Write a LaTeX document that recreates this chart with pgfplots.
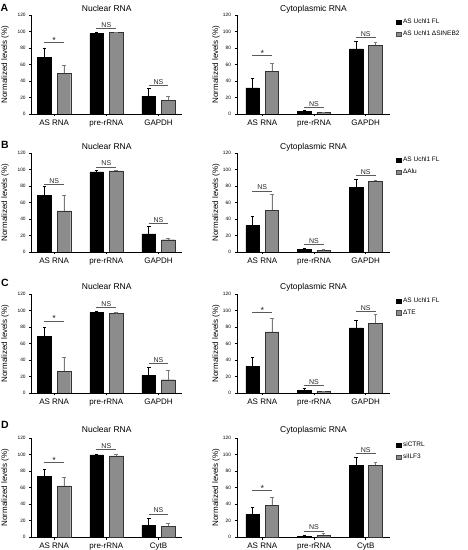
\documentclass[border=0pt]{standalone}
\usepackage{pgfplots}
\pgfplotsset{compat=1.18}
\usepackage{fontspec}
\setmainfont{Liberation Sans}
\definecolor{bargray}{HTML}{8C8C8C}
\definecolor{errgray}{HTML}{7A7A7A}
\definecolor{siggray}{HTML}{5A5A5A}
\pgfplotsset{
  panel/.style={scale only axis, height=99pt, ymin=0, ymax=120, ytick={0,20,...,120},
    axis x line*=bottom, axis y line*=left, tick align=outside, major tick length=2.5pt,
    xtick={0,1,2}, ylabel={Normalized levels (\%)},
    axis line style={line width=0.6pt}, tick style={line width=0.5pt, black},
    /pgf/number format/assume math mode=true,
    yticklabel style={font=\fontsize{4.8}{5}\selectfont, xshift=0pt},
    xticklabel style={font=\fontsize{8}{9}\selectfont},
    ylabel style={font=\fontsize{8}{9}\selectfont},
    title style={font=\fontsize{8.5}{10}\selectfont, at={(axis description cs:0.5,1)}, anchor=base},
    legend style={at={(axis description cs:1,1)}, anchor=north west, xshift=6pt, yshift=-2pt,
      draw=none, fill=none, font=\fontsize{6.5}{7.5}\selectfont, row sep=1.5pt, inner sep=0pt},
    legend cell align=left,
  },
  nuc/.style={panel, width=150pt, xmin=-0.431, xmax=2.444,
    ylabel style={at={(axis description cs:-0.177,0.5)}, anchor=center}},
  cyt/.style={panel, width=153pt, xmin=-0.489, xmax=2.47,
    ylabel style={at={(axis description cs:-0.137,0.5)}, anchor=center}},
  blk/.style={ybar, fill=black, draw=black, bar width=0.26, bar shift=0,
    /pgfplots/error bars/y dir=plus, /pgfplots/error bars/y explicit,
    /pgfplots/error bars/error bar style={black, line width=0.6pt},
    /pgfplots/error bars/error mark options={rotate=90, black, line width=0.6pt, mark size=1.8pt}},
  gry/.style={ybar, fill=bargray, draw=black!80, line width=0.4pt, bar width=0.26, bar shift=0,
    /pgfplots/error bars/y dir=plus, /pgfplots/error bars/y explicit,
    /pgfplots/error bars/error bar style={errgray, line width=0.6pt},
    /pgfplots/error bars/error mark options={rotate=90, errgray, line width=0.6pt, mark size=1.8pt}},
  sig/.style={siggray, line width=0.7pt, forget plot},
  blkleg/.style={legend image code/.code={\fill[black] (0pt,-2.2pt) rectangle (4.5pt,2.3pt);}},
  gryleg/.style={legend image code/.code={\filldraw[fill=bargray, draw=black!70, line width=0.4pt] (0pt,-2.2pt) rectangle (4.5pt,2.3pt);}},
}
\newcommand{\signif}[2]{% x, y  (line)
  \addplot[sig] coordinates {({#1-0.19},#2) ({#1+0.19},#2)};}
\tikzset{sigtxt/.style={font=\fontsize{7}{8}\selectfont, anchor=south, inner sep=0.8pt, text=black!85},
  startxt/.style={font=\fontsize{9}{9}\selectfont, anchor=south, inner sep=0pt, yshift=-1.2pt, text=black!85}}
\begin{document}
\begin{tikzpicture}
\useasboundingbox (0,0) rectangle (468pt,550pt);
% panel letters
\node[font=\fontsize{10.5}{12}\selectfont\bfseries] at (4.5pt,542.5pt) {A};
\node[font=\fontsize{10.5}{12}\selectfont\bfseries] at (5pt,405pt) {B};
\node[font=\fontsize{10.5}{12}\selectfont\bfseries] at (5pt,267pt) {C};
\node[font=\fontsize{10.5}{12}\selectfont\bfseries] at (5pt,125pt) {D};

% ===== A nuclear
\begin{axis}[nuc, at={(31.7pt,436pt)}, anchor=south west, title={Nuclear RNA}, title style={yshift=-3pt},
  xticklabels={AS RNA,pre-rRNA,GAPDH}]
\addplot[blk] coordinates {(-0.187,68.5) +- (0,11) (0.813,97.5) +- (0,2) (1.813,21.7) +- (0,9.3)};
\addplot[gry] coordinates {(0.187,49.1) +- (0,10) (1.187,98.7) +- (0,0.8) (2.187,16.9) +- (0,4)};
\signif{0}{86.6} \signif{1}{103.5} \signif{2}{34.2}
\node[startxt] at (axis cs:0,86.6) {*};
\node[sigtxt] at (axis cs:1,103.5) {NS};
\node[sigtxt] at (axis cs:2,34.2) {NS};
\end{axis}
% ===== A cyto
\begin{axis}[cyt, at={(237pt,436pt)}, anchor=south west, title={Cytoplasmic RNA}, title style={yshift=-3pt},
  xticklabels={AS RNA,pre-rRNA,GAPDH}]
\addplot[blk, blkleg] coordinates {(-0.187,31.8) +- (0,11.3) (0.813,3.2) +- (0,1.2) (1.813,78.9) +- (0,9)};
\addplot[gry, gryleg] coordinates {(0.187,52) +- (0,10) (1.187,2) +- (0,0.5) (2.187,83.4) +- (0,3.2)};
\addlegendentry{AS Uchl1 FL}
\addlegendentry{AS Uchl1 ΔSINEB2}
\signif{0}{70.5} \signif{1}{8} \signif{2}{93}
\node[startxt] at (axis cs:0,70.5) {*};
\node[sigtxt] at (axis cs:1,8) {NS};
\node[sigtxt] at (axis cs:2,93) {NS};
\end{axis}

% ===== B nuclear
\begin{axis}[nuc, at={(31.7pt,298pt)}, anchor=south west, title={Nuclear RNA}, title style={yshift=-3pt},
  xticklabels={AS RNA,pre-rRNA,GAPDH}]
\addplot[blk] coordinates {(-0.187,68.3) +- (0,11.7) (0.813,97.2) +- (0,2) (1.813,22) +- (0,9.7)};
\addplot[gry] coordinates {(0.187,49.8) +- (0,18.5) (1.187,98.4) +- (0,1.2) (2.187,14.9) +- (0,2)};
\signif{0}{82} \signif{1}{103.2} \signif{2}{34.5}
\node[sigtxt] at (axis cs:0,82) {NS};
\node[sigtxt] at (axis cs:1,103.2) {NS};
\node[sigtxt] at (axis cs:2,34.5) {NS};
\end{axis}
% ===== B cyto
\begin{axis}[cyt, at={(237pt,298pt)}, anchor=south west, title={Cytoplasmic RNA}, title style={yshift=-3pt},
  xticklabels={AS RNA,pre-rRNA,GAPDH}]
\addplot[blk, blkleg] coordinates {(-0.187,32.1) +- (0,11.7) (0.813,3.2) +- (0,1.6) (1.813,78.3) +- (0,10)};
\addplot[gry, gryleg] coordinates {(0.187,50.6) +- (0,19.3) (1.187,2.4) +- (0,0.5) (2.187,85.5) +- (0,1.2)};
\addlegendentry{AS Uchl1 FL}
\addlegendentry{ΔAlu}
\signif{0}{73.9} \signif{1}{8.8} \signif{2}{93.2}
\node[sigtxt] at (axis cs:0,73.9) {NS};
\node[sigtxt] at (axis cs:1,8.8) {NS};
\node[sigtxt] at (axis cs:2,93.2) {NS};
\end{axis}

% ===== C nuclear
\begin{axis}[nuc, at={(31.7pt,157pt)}, anchor=south west, title={Nuclear RNA}, title style={yshift=-1pt},
  xticklabels={AS RNA,pre-rRNA,GAPDH}]
\addplot[blk] coordinates {(-0.187,68.5) +- (0,11.3) (0.813,97.5) +- (0,2) (1.813,21.7) +- (0,9.3)};
\addplot[gry] coordinates {(0.187,26.6) +- (0,16.5) (1.187,96.3) +- (0,1.2) (2.187,16.1) +- (0,10.9)};
\signif{0}{87.4} \signif{1}{103.9} \signif{2}{36.2}
\node[startxt] at (axis cs:0,87.4) {*};
\node[sigtxt] at (axis cs:1,103.9) {NS};
\node[sigtxt] at (axis cs:2,36.2) {NS};
\end{axis}
% ===== C cyto
\begin{axis}[cyt, at={(237pt,157pt)}, anchor=south west, title={Cytoplasmic RNA}, title style={yshift=-1pt},
  xticklabels={AS RNA,pre-rRNA,GAPDH}]
\addplot[blk, blkleg] coordinates {(-0.187,32.2) +- (0,11.3) (0.813,2.8) +- (0,2.4) (1.813,78.9) +- (0,9.3)};
\addplot[gry, gryleg] coordinates {(0.187,74.1) +- (0,16.1) (1.187,1.6) +- (0,0.8) (2.187,84.6) +- (0,10.8)};
\addlegendentry{AS Uchl1 FL}
\addlegendentry{ΔTE}
\signif{0}{97.9} \signif{1}{8.9} \signif{2}{98.7}
\node[startxt] at (axis cs:0,97.9) {*};
\node[sigtxt] at (axis cs:1,8.9) {NS};
\node[sigtxt] at (axis cs:2,98.7) {NS};
\end{axis}

% ===== D nuclear
\begin{axis}[nuc, at={(31.7pt,13pt)}, anchor=south west, title={Nuclear RNA}, title style={yshift=0pt},
  xticklabels={AS RNA,pre-rRNA,CytB}]
\addplot[blk] coordinates {(-0.187,73.3) +- (0,8.9) (0.813,99.5) +- (0,0.3) (1.813,13.7) +- (0,8.9)};
\addplot[gry] coordinates {(0.187,62) +- (0,10.5) (1.187,98.3) +- (0,2.4) (2.187,12.9) +- (0,4)};
\signif{0}{90.2} \signif{1}{106.3} \signif{2}{27.8}
\node[startxt] at (axis cs:0,90.2) {*};
\node[sigtxt] at (axis cs:1,106.3) {NS};
\node[sigtxt] at (axis cs:2,27.8) {NS};
\end{axis}
% ===== D cyto
\begin{axis}[cyt, at={(237pt,13pt)}, anchor=south west, title={Cytoplasmic RNA}, title style={yshift=0pt},
  xticklabels={AS RNA,pre-rRNA,CytB}]
\addplot[blk, blkleg] coordinates {(-0.187,27.4) +- (0,8.4) (0.813,1.2) +- (0,0.3) (1.813,87) +- (0,9.3)};
\addplot[gry, gryleg] coordinates {(0.187,38.7) +- (0,10) (1.187,2) +- (0,2.4) (2.187,87) +- (0,4)};
\addlegendentry{siCTRL}
\addlegendentry{siILF3}
\signif{0}{56} \signif{1}{7.2} \signif{2}{101.5}
\node[startxt] at (axis cs:0,56) {*};
\node[sigtxt] at (axis cs:1,7.2) {NS};
\node[sigtxt] at (axis cs:2,101.5) {NS};
\end{axis}
\end{tikzpicture}
\end{document}
